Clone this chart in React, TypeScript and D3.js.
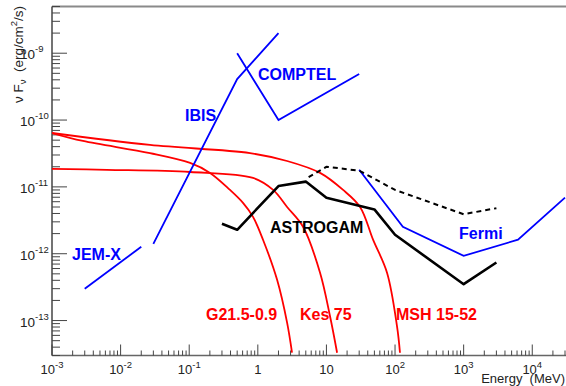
import React, { useEffect, useRef } from 'react';
import * as d3 from 'd3';

// energies in MeV, fluxes (nu F_nu) in erg/cm2/s

const g215Energy = [1e-3, 2.83e-3, 0.0268, 0.103, 0.201, 0.393, 0.608, 0.851, 1.19, 1.905, 2.67, 3.15];
const g215Flux = [6.4e-11, 4.86e-11, 3.2e-11, 2.28e-11, 1.62e-11, 9.0e-12, 5.77e-12, 3.56e-12, 1.62e-12, 4.1e-13, 9.3e-14, 3.3e-14];

const kes75Energy = [1e-3, 6.3e-3, 0.103, 0.851, 1.67, 2.67, 4.56, 8.07, 11.3, 14.3];
const kes75Flux = [1.86e-11, 1.8e-11, 1.67e-11, 1.36e-11, 9.0e-12, 5.0e-12, 2.53e-12, 5.2e-13, 1.15e-13, 3.3e-14];

const msh1552Energy = [1e-3, 0.0268, 0.77, 2.67, 8.07, 17.5, 30.9, 47.8, 76.4, 107, 118];
const msh1552Flux = [6.4e-11, 4.24e-11, 3.2e-11, 2.44e-11, 1.62e-11, 9.0e-12, 5.0e-12, 1.62e-12, 5.2e-13, 8.1e-14, 3.3e-14];

const jemxEnergy = [3e-3, 0.02];
const jemxFlux = [3.0e-13, 1.27e-12];

const ibisEnergy = [0.03, 0.5, 2];
const ibisFlux = [1.4e-12, 4.1e-10, 2e-9];

const comptelEnergy = [0.5, 2, 30];
const comptelFlux = [1.0e-9, 1.0e-10, 4.9e-10];

const fermiEnergy = [30, 130, 1000, 6200, 3e4];
const fermiFlux = [1.8e-11, 2.53e-12, 9.3e-13, 1.62e-12, 6.9e-12];

const astrogamEnergy = [0.3, 0.5, 2, 5, 10, 50, 100, 1000, 3000];
const astrogamFlux = [2.8e-12, 2.28e-12, 1.03e-11, 1.2e-11, 6.9e-12, 4.6e-12, 1.92e-12, 3.5e-13, 7.4e-13];

const astrogamDashEnergy = [5.5, 10, 30, 100, 1000, 3000];
const astrogamDashFlux = [1.4e-11, 2.0e-11, 1.75e-11, 9.0e-12, 3.9e-12, 4.8e-12];

const xTickValues = [1e-3, 1e-2, 1e-1, 1, 10, 1e2, 1e3, 1e4];
const xTickBases = ['10', '10', '10', '1', '10', '10', '10', '10'];
const xTickExps = ['-3', '-2', '-1', '', '', '2', '3', '4'];

const yTickValues = [1e-13, 1e-12, 1e-11, 1e-10, 1e-9];
const yTickExps = ['-13', '-12', '-11', '-10', '-9'];

const zip = (a: number[], b: number[]): Array<[number, number]> => a.map((v, i) => [v, b[i]]);

export default function App() {
  const svgRef = useRef<SVGSVGElement>(null);

  useEffect(() => {
    if (!svgRef.current) return;
    const svg = d3.select(svgRef.current);
    svg.selectAll('*').remove();

    const font = 'Liberation Sans, Arial, Helvetica, sans-serif';
    const left = 52, right = 565, top = 6.5, bottom = 355.5;

    const x = d3.scaleLog().domain([1e-3, 3e4]).range([left, right]);
    const y = d3.scaleLog().domain([3e-14, 5e-9]).range([bottom, top]);

    svg.append('rect').attr('width', 566).attr('height', 386).attr('fill', '#fff');

    svg.append('defs').append('clipPath').attr('id', 'plotclip')
      .append('rect')
      .attr('x', left).attr('y', top)
      .attr('width', 566 - left).attr('height', bottom - top);

    // top frame line
    svg.append('line')
      .attr('x1', left).attr('x2', 566)
      .attr('y1', top).attr('y2', top)
      .attr('stroke', '#8a8a8a').attr('stroke-width', 2);

    // x axis
    const axisColor = '#444';
    svg.append('line')
      .attr('x1', left).attr('x2', 566)
      .attr('y1', bottom).attr('y2', bottom)
      .attr('stroke', '#666').attr('stroke-width', 1.5);

    const xMinor: number[] = [];
    for (let k = -3; k <= 4; k++) {
      for (let m = 2; m <= 9; m++) {
        const v = m * Math.pow(10, k);
        if (v <= 3e4) xMinor.push(v);
      }
    }
    svg.append('g').selectAll('line').data(xMinor).enter().append('line')
      .attr('x1', d => x(d)).attr('x2', d => x(d))
      .attr('y1', bottom).attr('y2', bottom - 5)
      .attr('stroke', axisColor).attr('stroke-width', 1);
    svg.append('g').selectAll('line').data(xTickValues).enter().append('line')
      .attr('x1', d => x(d)).attr('x2', d => x(d))
      .attr('y1', bottom).attr('y2', bottom - 11)
      .attr('stroke', axisColor).attr('stroke-width', 1);

    xTickValues.forEach((v, i) => {
      const t = svg.append('text')
        .attr('x', x(v))
        .attr('y', 374)
        .attr('text-anchor', 'middle')
        .attr('font-family', font)
        .style('font-size', '13px')
        .style('fill', '#222');
      t.append('tspan').text(xTickBases[i]);
      if (xTickExps[i]) {
        t.append('tspan').attr('dy', -6).style('font-size', '9.5px').text(xTickExps[i]);
      }
    });

    svg.append('text')
      .attr('x', 565)
      .attr('y', 382.5)
      .attr('text-anchor', 'end')
      .attr('font-family', font)
      .style('font-size', '13px')
      .style('fill', '#222')
      .style('white-space', 'pre')
      .text('Energy  (MeV)');

    // y axis
    svg.append('line')
      .attr('x1', left).attr('x2', left)
      .attr('y1', top).attr('y2', bottom)
      .attr('stroke', axisColor).attr('stroke-width', 1.5);

    const yMinor: number[] = [];
    for (let k = -14; k <= -9; k++) {
      for (let m = 2; m <= 9; m++) {
        const v = m * Math.pow(10, k);
        if (v >= 3e-14 && v <= 5e-9) yMinor.push(v);
      }
    }
    svg.append('g').selectAll('line').data(yMinor).enter().append('line')
      .attr('x1', left).attr('x2', left + 8)
      .attr('y1', d => y(d)).attr('y2', d => y(d))
      .attr('stroke', axisColor).attr('stroke-width', 1);
    svg.append('g').selectAll('line').data(yTickValues).enter().append('line')
      .attr('x1', left).attr('x2', left + 15)
      .attr('y1', d => y(d)).attr('y2', d => y(d))
      .attr('stroke', axisColor).attr('stroke-width', 1);

    yTickValues.forEach((v, i) => {
      const t = svg.append('text')
        .attr('x', 20)
        .attr('y', y(v) + 6)
        .attr('font-family', font)
        .style('font-size', '13.5px')
        .style('fill', '#222');
      t.append('tspan').text('10');
      t.append('tspan').attr('dy', -7).style('font-size', '9.5px').text(yTickExps[i]);
    });

    const yTitle = svg.append('text')
      .attr('transform', 'translate(23,6) rotate(-90)')
      .attr('text-anchor', 'end')
      .attr('font-family', font)
      .style('font-size', '13.5px')
      .style('fill', '#222')
      .style('white-space', 'pre');
    yTitle.append('tspan').text('\u03bd F');
    yTitle.append('tspan').attr('dy', 3).style('font-size', '9.5px').text('\u03bd');
    yTitle.append('tspan').attr('dy', -3).text('  (erg/cm');
    yTitle.append('tspan').attr('dy', -6).style('font-size', '9.5px').text('2');
    yTitle.append('tspan').attr('dy', 6).text('/s)');

    // curves
    const plot = svg.append('g').attr('clip-path', 'url(#plotclip)');

    const smooth = d3.line<[number, number]>()
      .x(d => x(d[0])).y(d => y(d[1]))
      .curve(d3.curveCatmullRom.alpha(0.5));
    const straight = d3.line<[number, number]>()
      .x(d => x(d[0])).y(d => y(d[1]));

    [
      zip(g215Energy, g215Flux),
      zip(kes75Energy, kes75Flux),
      zip(msh1552Energy, msh1552Flux),
    ].forEach(pts => {
      plot.append('path')
        .attr('d', smooth(pts))
        .attr('fill', 'none')
        .attr('stroke', '#ff0000')
        .attr('stroke-width', 1.8);
    });

    [
      zip(jemxEnergy, jemxFlux),
      zip(ibisEnergy, ibisFlux),
      zip(comptelEnergy, comptelFlux),
      zip(fermiEnergy, fermiFlux),
    ].forEach(pts => {
      plot.append('path')
        .attr('d', straight(pts))
        .attr('fill', 'none')
        .attr('stroke', '#0000ff')
        .attr('stroke-width', 1.8);
    });

    plot.append('path')
      .attr('d', straight(zip(astrogamEnergy, astrogamFlux)))
      .attr('fill', 'none')
      .attr('stroke', '#000')
      .attr('stroke-width', 2.6)
      .attr('stroke-linejoin', 'round');

    plot.append('path')
      .attr('d', straight(zip(astrogamDashEnergy, astrogamDashFlux)))
      .attr('fill', 'none')
      .attr('stroke', '#000')
      .attr('stroke-width', 2)
      .attr('stroke-dasharray', '5,4');

    // labels
    const label = (text: string, lx: number, ly: number, color: string) => {
      svg.append('text')
        .attr('x', lx)
        .attr('y', ly)
        .attr('font-family', font)
        .style('font-size', '16px')
        .style('font-weight', 'bold')
        .style('fill', color)
        .text(text);
    };
    label('IBIS', 185, 121, '#0000ff');
    label('COMPTEL', 258, 80, '#0000ff');
    label('JEM-X', 72, 260, '#0000ff');
    label('Fermi', 459, 239, '#0000ff');
    label('ASTROGAM', 270, 233, '#000');
    label('G21.5-0.9', 206, 320, '#ff0000');
    label('Kes 75', 300, 320, '#ff0000');
    label('MSH 15-52', 396, 320, '#ff0000');
  }, []);

  return (
    <svg
      ref={svgRef}
      width={566}
      height={386}
      style={{ position: 'absolute', left: 0, top: 0, display: 'block' }}
    />
  );
}
